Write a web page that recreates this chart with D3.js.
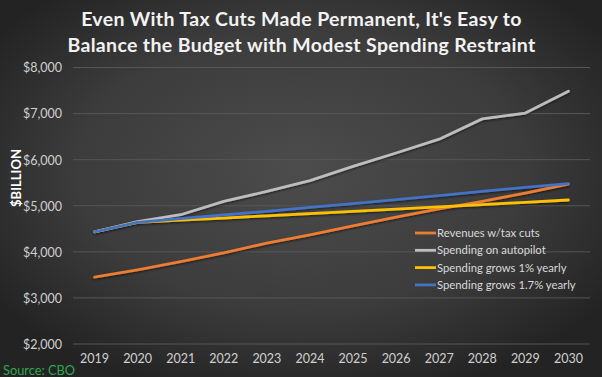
<!DOCTYPE html>
<html><head><meta charset="utf-8">
<script src="https://cdn.jsdelivr.net/npm/d3@7"></script>
<style>html,body{margin:0;padding:0;background:#333;}svg{display:block;}</style>
</head><body>
<script>
const years = ["2019","2020","2021","2022","2023","2024","2025","2026","2027","2028","2029","2030"];
const revenues = [3450,3610,3790,3975,4190,4370,4565,4755,4930,5095,5275,5470];
const autopilot = [4435,4655,4805,5095,5310,5545,5855,6145,6445,6885,7010,7485];
const grows1 = [4435,4640,4686,4733,4781,4828,4877,4925,4975,5024,5075,5125];
const grows17 = [4435,4640,4719,4799,4880,4963,5048,5134,5221,5310,5400,5480];
const yTicks = [2000,3000,4000,5000,6000,7000,8000];
const seriesNames = ["Revenues w/tax cuts","Spending on autopilot","Spending grows 1% yearly","Spending grows 1.7% yearly"];
const seriesColors = ["#ED7D31","#BDBDBD","#FFC000","#4472C4"];
const titleLines = ["Even With Tax Cuts Made Permanent, It's Easy to","Balance the Budget with Modest Spending Restraint"];

const W=602,H=377;
const svg=d3.select("body").append("svg").attr("width",W).attr("height",H);
const defs=svg.append("defs");
const rg=defs.append("radialGradient").attr("id","bg").attr("cx","0.5").attr("cy","0.45").attr("r","0.62");
rg.append("stop").attr("offset","0").attr("stop-color","#4c4c4c");
rg.append("stop").attr("offset","0.6").attr("stop-color","#3c3c3c");
rg.append("stop").attr("offset","1").attr("stop-color","#232323");
svg.append("rect").attr("width",W).attr("height",H).attr("fill","url(#bg)");
const sh=defs.append("filter").attr("id","sh").attr("x","-10%").attr("y","-10%").attr("width","120%").attr("height","130%");
sh.append("feDropShadow").attr("dx",0).attr("dy",1.2).attr("stdDeviation",0.8).attr("flood-color","#000").attr("flood-opacity",0.6);

const FONT="Lato, 'Open Sans', sans-serif";
const x=d3.scaleBand().domain(years).range([73,590]);
const y=d3.scaleLinear().domain([2000,8000]).range([344,67.5]);

// gridlines
svg.append("g").selectAll("line").data(yTicks).join("line")
  .attr("x1",73).attr("x2",590).attr("y1",d=>y(d)).attr("y2",d=>y(d))
  .attr("stroke","#565656").attr("stroke-width",1);

// y axis
const yAxis=d3.axisLeft(y).tickValues(yTicks).tickSize(0).tickPadding(0).tickFormat(d=>"$"+d3.format(",")(d));
const ya=svg.append("g").attr("transform","translate(62,0)").call(yAxis);
ya.select(".domain").remove();
ya.selectAll("text").attr("fill","#d0d0d0").attr("font-family",FONT).attr("font-size",12.5).attr("dy","0.35em");

// x axis
const xAxis=d3.axisBottom(x).tickSize(0).tickPadding(0);
const xa=svg.append("g").attr("transform","translate(0,354)").call(xAxis);
xa.select(".domain").remove();
xa.selectAll("text").attr("fill","#d0d0d0").attr("font-family",FONT).attr("font-size",12.5).attr("dy","0.71em");

// lines
const data=[revenues,autopilot,grows1,grows17];
const line=d3.line().x((d,i)=>x(years[i])+x.bandwidth()/2).y(d=>y(d));
svg.append("g").attr("filter","url(#sh)").selectAll("path").data([0,1,2,3]).join("path")
  .attr("d",i=>line(data[i])).attr("fill","none").attr("stroke",i=>seriesColors[i])
  .attr("stroke-width",2.8).attr("stroke-linecap","round").attr("stroke-linejoin","round");

// y title
svg.append("text").attr("transform","translate(21,178) rotate(-90)").attr("text-anchor","middle")
  .attr("fill","#ffffff").attr("font-family",FONT).attr("font-weight","bold").attr("font-size",13)
  .text("$BILLION");

// title
svg.append("g").selectAll("text").data(titleLines).join("text")
  .attr("x",301.5).attr("y",(d,i)=>26+i*26).attr("text-anchor","middle")
  .attr("fill","#f2f2f2").attr("font-family",FONT).attr("font-weight","bold").attr("font-size",19.5)
  .attr("letter-spacing",0.35)
  .text(d=>d);

// legend
const lg=svg.append("g").selectAll("g").data(seriesNames).join("g")
  .attr("transform",(d,i)=>`translate(415,${233+i*17.3})`);
lg.append("line").attr("x1",0).attr("x2",21).attr("stroke",(d,i)=>seriesColors[i]).attr("stroke-width",2.8);
lg.append("text").attr("x",22).attr("dy","0.35em").attr("fill","#d9d9d9")
  .attr("font-family",FONT).attr("font-size",11.3).text(d=>d);

// source
svg.append("text").attr("x",3).attr("y",375).attr("fill","#2fa84f")
  .attr("font-family",FONT).attr("font-size",12.8).text("Source: CBO");
</script>
</body></html>
